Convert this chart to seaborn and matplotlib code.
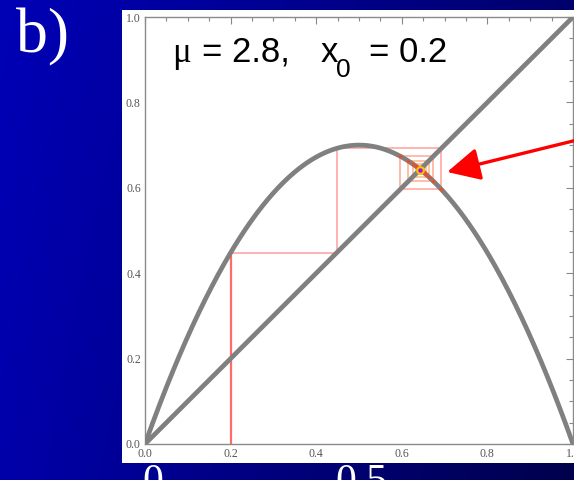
import numpy as np
import pandas as pd
import matplotlib
matplotlib.use("Agg")
import matplotlib.pyplot as plt
from matplotlib.patches import Rectangle
from matplotlib.colors import to_rgb
import seaborn as sns

# Logistic map parameters shown in the panel title
mu = 2.8
x0 = 0.2
n_iter = 40

# Axis ticks
major_ticks = [0.0, 0.2, 0.4, 0.6, 0.8, 1.0]
tick_labels = ["0.0", "0.2", "0.4", "0.6", "0.8", "1.0"]
minor_ticks = np.arange(0.0, 1.0001, 0.05)

# Slide text
panel_tag = "b)"
slide_ticks = ["0", "0.5"]

sns.set_style("white")
plt.rcParams["font.family"] = ["Liberation Sans", "DejaVu Sans"]

W, H = 574, 480
fig = plt.figure(figsize=(W / 100, H / 100), dpi=100)


def fx(px):
    return px / W


def fy(py):
    return 1 - py / H


# Slide background: blue gradient, bright at the left, darker toward the lower right
bg = fig.add_axes([0, 0, 1, 1], zorder=-2)
tl, tr = np.array(to_rgb("#0000b6")), np.array(to_rgb("#00006c"))
bl, br = np.array(to_rgb("#0000aa")), np.array(to_rgb("#00004c"))
u = np.linspace(0, 1, 200)[None, :, None]
v = np.linspace(0, 1, 200)[:, None, None]
grad = (1 - v) * ((1 - u) * tl + u * tr) + v * ((1 - u) * bl + u * br)
bg.imshow(grad, extent=[0, 1, 0, 1], aspect="auto", interpolation="bilinear")
bg.set_axis_off()

# Large slide labels (partly hidden under the white panel)
fig.text(fx(16), fy(52), panel_tag, color="white", fontsize=46,
         family="Liberation Serif", va="baseline", ha="left", zorder=-1)
for lab, cx in zip(slide_ticks, [153, 361]):
    fig.text(fx(cx), fy(493), lab, color="white", fontsize=30,
             family="Liberation Serif", va="baseline", ha="center", zorder=-1)

# White panel holding the plot
fig.patches.append(Rectangle((fx(122), fy(463)), 1.0, (463 - 10) / H,
                             transform=fig.transFigure, facecolor="white",
                             edgecolor="none", zorder=0))

ax = fig.add_axes([fx(145), fy(444), 428 / W, 427 / H], zorder=2)
ax.set_facecolor("none")

# Map curve and identity line
xs = np.linspace(0, 1, 400)
curve = pd.DataFrame({"x": xs, "y": mu * xs * (1 - xs)})
ident = pd.DataFrame({"x": [0.0, 1.0], "y": [0.0, 1.0]})
sns.lineplot(data=curve, x="x", y="y", ax=ax, color="#808080", lw=3.4,
             sort=False, zorder=3)
sns.lineplot(data=ident, x="x", y="y", ax=ax, color="#808080", lw=3.4,
             sort=False, zorder=3)

# Cobweb iteration starting at x0
orbit = [x0]
for _ in range(n_iter):
    orbit.append(mu * orbit[-1] * (1 - orbit[-1]))
orbit = np.array(orbit)

c_start = np.array(to_rgb("#ff5a5a"))
c_end = np.array(to_rgb("#ffa020"))
ax.plot([x0, x0], [0, orbit[1]], color="#ff6a6a", lw=1.6, zorder=2,
        solid_capstyle="butt")
for i in range(n_iter - 1):
    t = min(1.0, i / 10)
    col = (1 - t) * c_start + t * c_end
    a, b, c = orbit[i], orbit[i + 1], orbit[i + 2]
    ax.plot([a, b], [b, b], color=col, lw=1.2, alpha=0.55, zorder=2)
    ax.plot([b, b], [b, c], color=col, lw=1.2, alpha=0.55, zorder=2)

# Orbit points on the curve
pts_x = orbit[2:-1]
pts_y = orbit[3:]
ax.scatter(pts_x, pts_y, s=7, color="#e8502a", zorder=4, linewidths=0)

# Fixed point
xf = 1 - 1 / mu
ax.scatter([xf], [xf], s=40, color="#ffc000", zorder=5, linewidths=0)
ax.scatter([xf], [xf], s=10, color="#a010e0", zorder=6, linewidths=0)

# Arrow pointing at the fixed point
ax.annotate("", xy=(0.706, 0.637), xytext=(1.03, 0.717),
            xycoords="data", textcoords="data", annotation_clip=False,
            arrowprops=dict(arrowstyle="-|>,head_length=1.0,head_width=0.5",
                            mutation_scale=20, color="#ff0000", lw=2.4,
                            shrinkA=0, shrinkB=0), zorder=7)

ax.set_xlim(0, 1)
ax.set_ylim(0, 1)
ax.set_xlabel("")
ax.set_ylabel("")
ax.set_xticks(major_ticks)
ax.set_yticks(major_ticks)
ax.set_xticklabels(tick_labels, family="Liberation Serif")
ax.set_yticklabels(tick_labels, family="Liberation Serif")
ax.set_xticks(minor_ticks, minor=True)
ax.set_yticks(minor_ticks, minor=True)
ax.tick_params(which="both", direction="in", top=True, right=True,
               color="#888888", labelcolor="#555555", labelsize=8.5, width=0.8)
ax.tick_params(which="major", length=5, pad=3)
ax.tick_params(which="minor", length=3)
for sp in ax.spines.values():
    sp.set_color("#8a8a8a")
    sp.set_linewidth(1.0)
    sp.set_visible(True)

# Title with subscript
title_kw = dict(color="black", fontsize=25, va="baseline", ha="left", zorder=3)
fig.text(fx(172), fy(62), "\u03bc", family="Liberation Serif", **title_kw)
fig.text(fx(202), fy(62), "= 2.8,", **title_kw)
fig.text(fx(321), fy(62), "x", **title_kw)
fig.text(fx(336), fy(77), "0", color="black", fontsize=19, va="baseline",
         ha="left", zorder=3)
fig.text(fx(369), fy(62), "= 0.2", **title_kw)

fig.savefig("out.png", dpi=100)
